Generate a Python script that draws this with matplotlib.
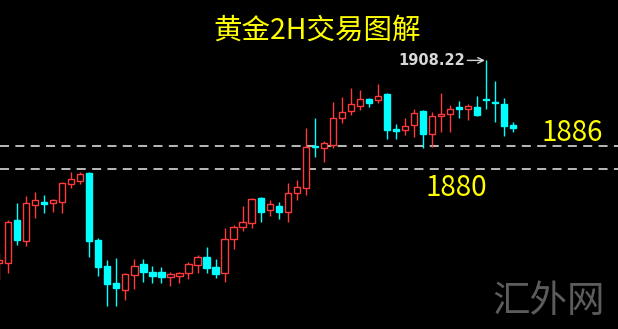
import matplotlib
matplotlib.use("Agg")
import matplotlib.pyplot as plt
from matplotlib.patches import Rectangle

plt.rcParams['font.family'] = ['Noto Sans CJK SC', 'DejaVu Sans']

# =====================================================
# DATOS (velas 2H)
# =====================================================
opens = [1855.6, 1855.6, 1866.8, 1861.3, 1870.7, 1871.5, 1871.2, 1871.5, 1876.1, 1876.9,
         1879.0, 1861.6, 1854.8, 1850.4, 1848.6, 1852.5, 1855.4, 1853.3, 1853.3, 1852.0,
         1852.2, 1853.0, 1855.1, 1857.2, 1854.6, 1853.0, 1861.8, 1865.0, 1866.0, 1872.5,
         1869.4, 1870.4, 1868.9, 1873.8, 1875.1, 1886.0, 1885.5, 1886.3, 1893.3, 1895.1,
         1896.4, 1898.2, 1897.9, 1899.5, 1890.4, 1890.2, 1891.5, 1895.1, 1889.1, 1893.8,
         1894.3, 1896.1, 1895.6, 1896.1, 1898.2, 1897.4, 1896.9, 1891.5]
highs = [1858.2, 1866.8, 1871.2, 1873.0, 1874.1, 1873.3, 1872.2, 1876.7, 1879.2, 1879.2,
         1879.2, 1862.1, 1856.4, 1856.9, 1853.0, 1856.7, 1856.7, 1854.8, 1854.6, 1853.3,
         1853.3, 1855.9, 1857.7, 1859.8, 1856.7, 1864.7, 1865.5, 1870.4, 1872.5, 1872.8,
         1872.0, 1871.5, 1876.4, 1877.2, 1890.7, 1893.3, 1887.3, 1897.4, 1898.7, 1901.1,
         1900.5, 1898.5, 1902.1, 1899.7, 1891.7, 1893.3, 1895.6, 1895.3, 1894.8, 1899.8,
         1896.6, 1897.7, 1896.9, 1899.0, 1908.22, 1902.9, 1898.5, 1892.2]
lows = [1851.2, 1853.0, 1860.3, 1860.0, 1867.3, 1868.6, 1868.9, 1868.6, 1875.1, 1876.1,
        1857.2, 1852.2, 1844.4, 1844.4, 1846.0, 1848.9, 1850.7, 1850.4, 1850.4, 1849.6,
        1850.4, 1851.5, 1853.0, 1853.0, 1851.7, 1850.7, 1859.3, 1863.9, 1864.7, 1866.3,
        1867.8, 1867.0, 1866.3, 1872.0, 1873.3, 1883.1, 1881.8, 1885.5, 1892.0, 1894.1,
        1895.3, 1896.1, 1897.2, 1887.8, 1887.8, 1888.9, 1888.3, 1885.5, 1885.7, 1889.6,
        1889.6, 1893.3, 1892.8, 1893.8, 1895.6, 1892.2, 1888.6, 1889.6]
closes = [1856.4, 1866.3, 1861.6, 1871.2, 1872.0, 1871.0, 1872.0, 1876.4, 1877.4, 1878.7,
          1861.3, 1854.6, 1850.2, 1849.1, 1852.8, 1854.8, 1853.3, 1852.2, 1852.0, 1852.8,
          1853.0, 1855.4, 1857.2, 1854.3, 1852.8, 1861.8, 1865.0, 1866.3, 1872.2, 1868.9,
          1871.0, 1868.9, 1873.8, 1875.4, 1885.7, 1885.7, 1886.8, 1893.3, 1894.8, 1896.9,
          1898.2, 1897.2, 1899.0, 1890.2, 1889.9, 1891.2, 1894.6, 1889.1, 1893.8, 1894.3,
          1895.6, 1895.6, 1896.4, 1894.1, 1897.9, 1897.2, 1891.2, 1890.7]

niveles = [1886, 1880]
etiquetas_niveles = ['1886', '1880']
max_label = '1908.22'
titulo = '黄金2H交易图解'

ROJO = '#ff3a3a'
CIAN = '#00ffff'

# =====================================================
# GRÁFICO
# =====================================================
fig = plt.figure(figsize=(6.18, 3.29), dpi=100, facecolor='black')
ax = fig.add_axes([0, 0, 1, 1])
ax.set_facecolor('black')

ancho = 0.7
for i, (o, h, l, c) in enumerate(zip(opens, highs, lows, closes)):
    sube = c >= o
    color = ROJO if sube else CIAN
    ax.vlines(i, l, h, color=color, linewidth=1.0, zorder=2)
    base = min(o, c)
    alto = max(abs(c - o), 0.15)
    ax.add_patch(Rectangle((i - ancho / 2, base), ancho, alto,
                           facecolor='black' if sube else CIAN,
                           edgecolor=color, linewidth=1.0, zorder=3))

# niveles de soporte / resistencia
for nivel in niveles:
    ax.axhline(nivel, color='#c8c8c8', linestyle=(0, (5, 3.5)), linewidth=1.3, zorder=1)

ax.text(63.5, niveles[0] + 3.4, etiquetas_niveles[0], color='#ffff00', fontsize=20,
        ha='center', va='center')
ax.text(50.7, niveles[1] - 4.8, etiquetas_niveles[1], color='#ffff00', fontsize=20,
        ha='center', va='center')

# máximo
i_max = highs.index(max(highs))
ax.text(i_max - 2.3, highs[i_max], max_label, color='#d8d8d8', fontsize=10.5,
        fontweight='bold', ha='right', va='center', family=['DejaVu Sans'])
ax.annotate('', xy=(i_max - 0.15, highs[i_max]), xytext=(i_max - 2.1, highs[i_max]),
            arrowprops=dict(arrowstyle='->', color='#d8d8d8', lw=1.0,
                            shrinkA=0, shrinkB=0))

fig.text(0.513, 0.908, titulo, color='#ffff00', fontsize=20.5, ha='center', va='center',
         fontweight='medium')
fig.text(0.887, 0.085, '汇外网', color='#5c5c5c', fontsize=27, ha='center', va='center',
         fontweight='light')

ax.set_xlim(0.11, 68.6)
ax.set_ylim(1838.5, 1923.9)
ax.axis('off')

plt.savefig('out.png', dpi=100, facecolor='black')
